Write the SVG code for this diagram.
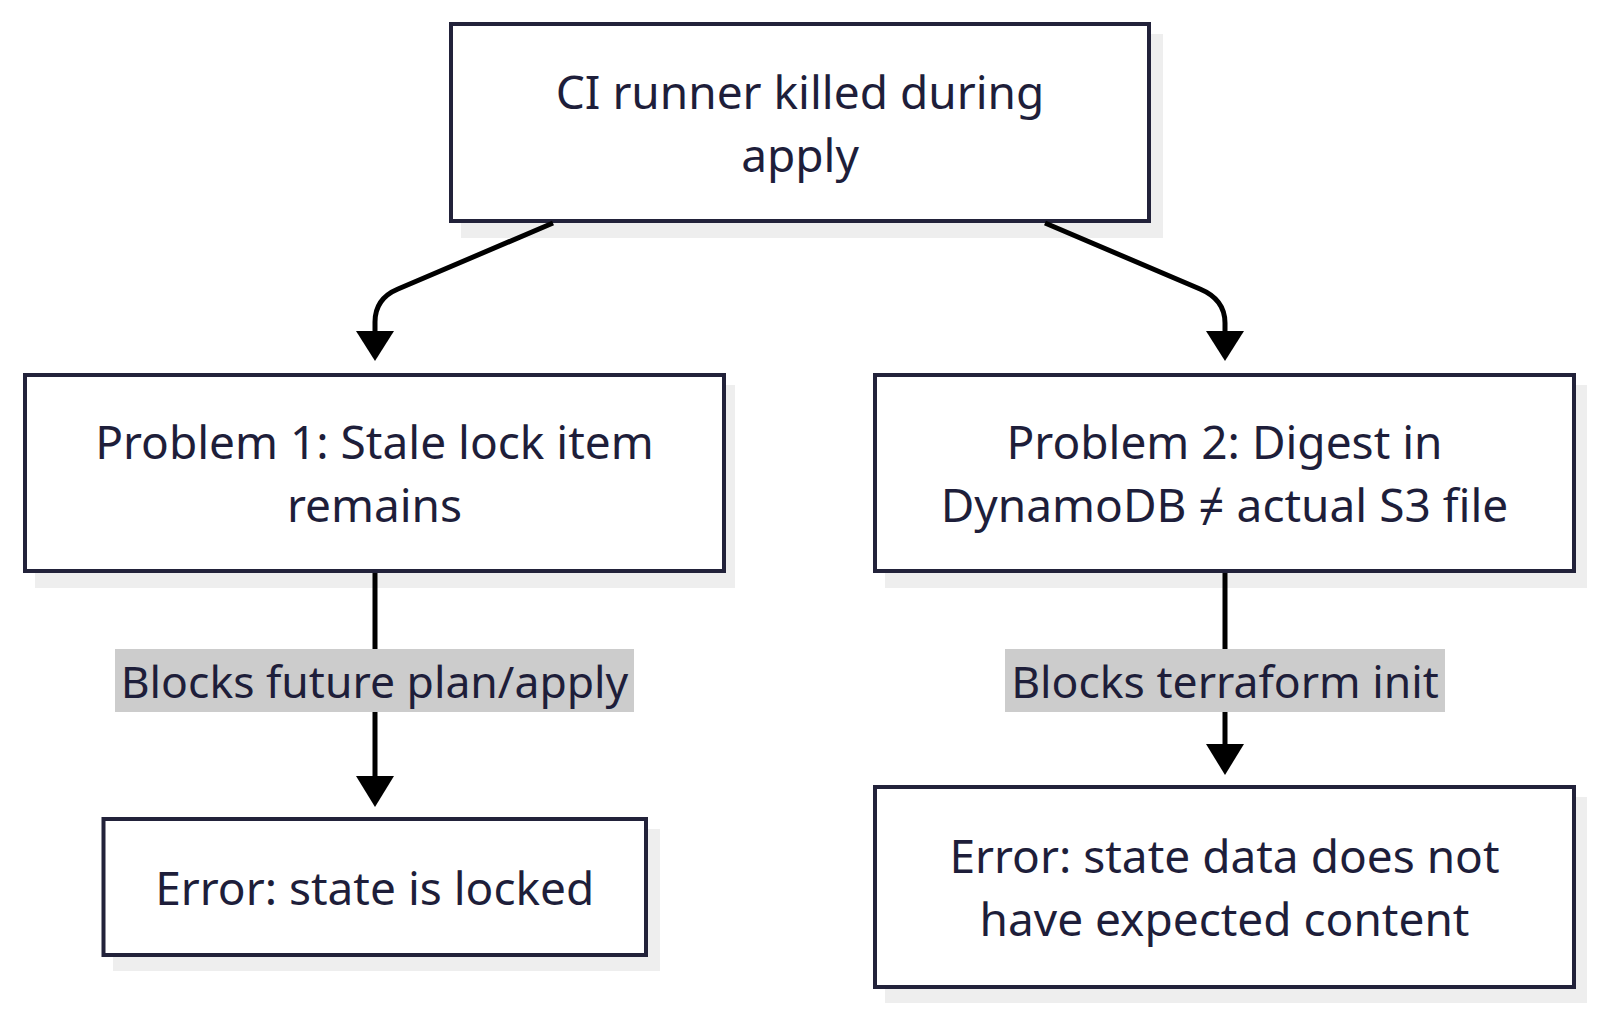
<svg xmlns="http://www.w3.org/2000/svg" width="1600" height="1011" viewBox="0 0 1600 1011">
<style>
.bg{fill:#ffffff}
.shadow{fill:#eeeeee}
.box{fill:#ffffff;stroke:#22223a;stroke-width:4}
.t{font-family:"Noto Sans","Open Sans","DejaVu Sans",sans-serif;font-size:46px;fill:#1e1e3a;text-anchor:middle;dominant-baseline:central}
.lt{font-size:44.5px}
.edge{fill:none;stroke:#000000;stroke-width:5}
.lblbg{fill:#cccccc}
.head{fill:#000000}
</style>
<rect class="bg" x="0" y="0" width="1600" height="1011"/>
<g id="node-runner">
  <rect class="shadow" x="461" y="34" width="702" height="204"/>
  <rect class="box" x="451" y="24" width="698" height="197"/>
  <text class="t" x="800" y="91">CI runner killed during</text>
  <text class="t" x="800" y="154">apply</text>
</g>
<g id="node-problem1">
  <rect class="shadow" x="35" y="385" width="700" height="203"/>
  <rect class="box" x="25" y="375" width="699" height="196"/>
  <text class="t" x="374.5" y="441">Problem 1: Stale lock item</text>
  <text class="t" x="374.5" y="504">remains</text>
</g>
<g id="node-problem2">
  <rect class="shadow" x="885" y="385" width="702" height="203"/>
  <rect class="box" x="875" y="375" width="699" height="196"/>
  <text class="t" x="1224.5" y="441">Problem 2: Digest in</text>
  <text class="t" x="1224.5" y="504">DynamoDB ≠ actual S3 file</text>
</g>
<g id="node-error1">
  <rect class="shadow" x="113" y="829" width="547" height="142"/>
  <rect class="box" x="103.5" y="819" width="542.5" height="136"/>
  <text class="t" x="374.75" y="887">Error: state is locked</text>
</g>
<g id="node-error2">
  <rect class="shadow" x="885" y="797" width="702" height="206"/>
  <rect class="box" x="875" y="787" width="699" height="200"/>
  <text class="t" x="1224.5" y="855">Error: state data does not</text>
  <text class="t" x="1224.5" y="918">have expected content</text>
</g>
<g id="connectors">
  <path class="edge" d="M553,223 L398,289 Q375,298.6 375,322 L375,333"/>
  <polygon class="head" points="356,331 394,331 375,361"/>
  <path class="edge" d="M1045,223 L1200,289 Q1225,299.5 1225,323 L1225,333"/>
  <polygon class="head" points="1206,331 1244,331 1225,361"/>
  <path class="edge" d="M375,573 L375,778"/>
  <polygon class="head" points="356,776 394,776 375,807"/>
  <path class="edge" d="M1225,573 L1225,746"/>
  <polygon class="head" points="1206,744 1244,744 1225,775"/>
  <g id="label1">
    <rect class="lblbg" x="115" y="649" width="519" height="63"/>
    <text class="t lt" x="374.5" y="680">Blocks future plan/apply</text>
  </g>
  <g id="label2">
    <rect class="lblbg" x="1005" y="649" width="440" height="63"/>
    <text class="t lt" x="1225" y="680">Blocks terraform init</text>
  </g>
</g>
</svg>
